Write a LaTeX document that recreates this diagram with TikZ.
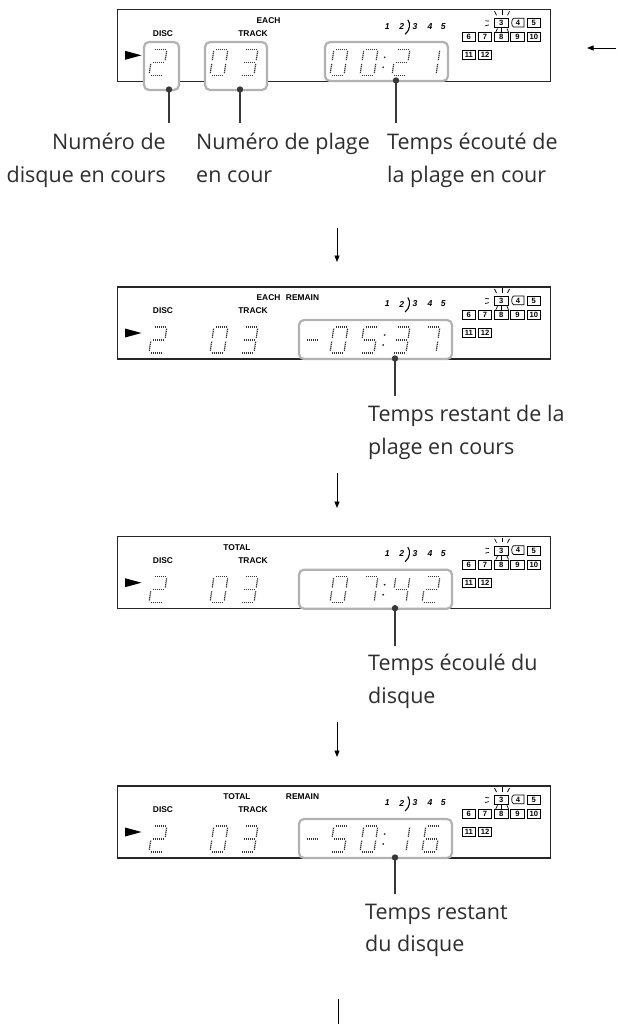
\documentclass[tikz,border=0pt]{standalone}
\usepackage{fontspec}
\setmainfont{Open Sans}
\newfontfamily\lcdfont{Liberation Sans}
\usetikzlibrary{arrows.meta}
\tikzset{
  lcdframe/.style={draw=black!85,line width=1.1pt},
  hibox/.style={draw=black!30,line width=2.2pt,rounded corners=5pt,fill=white},
  seg/.style={draw=black!80,line width=1.2pt,dash pattern=on 1.3pt off 0.7pt},
  lcdlbl/.style={inner sep=0pt,font=\lcdfont\bfseries\fontsize{8.4}{9}\selectfont},
  lcdnum/.style={inner sep=0pt,font=\lcdfont\bfseries\itshape\fontsize{8.6}{9}\selectfont},
  discbox/.style={draw=black,line width=0.7pt,minimum width=13.5pt,minimum height=8.8pt,inner sep=0pt,anchor=north west,font=\lcdfont\bfseries\fontsize{7.6}{8}\selectfont},
  boxnum/.style={inner sep=0pt,font=\lcdfont\bfseries\fontsize{7.6}{8}\selectfont},
  ray/.style={draw=black,line width=0.7pt},
  dotnode/.style={circle,fill=black!78,inner sep=0pt,minimum size=6.4pt},
  conn/.style={draw=black!78,line width=2.6pt},
  flowarr/.style={draw=black,line width=0.9pt,-{Triangle[length=6.5pt,width=5pt]}},
  caption/.style={inner sep=0pt,font=\fontsize{21.5}{25}\selectfont,text=black!82},
}
% seven segments (origin bottom-left, y downward, top at -26)
\newcommand\segA{\draw[seg] (1.6,-26)--(12.4,-26);}
\newcommand\segB{\draw[seg] (14,-24.4)--(14,-14.6);}
\newcommand\segC{\draw[seg] (14,-11.4)--(14,-1.6);}
\newcommand\segD{\draw[seg] (1.6,0)--(12.4,0);}
\newcommand\segE{\draw[seg] (0,-11.4)--(0,-1.6);}
\newcommand\segF{\draw[seg] (0,-24.4)--(0,-14.6);}
\newcommand\segG{\draw[seg] (1.6,-13)--(12.4,-13);}
\newcommand\dZero{\segA\segB\segC\segD\segE\segF}
\newcommand\dOne{\segB\segC}
\newcommand\dTwo{\segA\segB\segG\segE\segD}
\newcommand\dThree{\segA\segB\segG\segC\segD}
\newcommand\dFour{\segF\segG\segB\segC}
\newcommand\dFive{\segA\segF\segG\segC\segD}
\newcommand\dSix{\segA\segF\segG\segE\segD\segC}
\newcommand\dSeven{\segA\segB\segC}
\newcommand\dMinus{\segG}
\newcommand\lcdigit[2]{\begin{scope}[shift={(#1,66)},xslant=0.15]#2\end{scope}}
\newcommand\lcdcolon[1]{\begin{scope}[shift={(#1,66)},xslant=0.15]\fill[black!85] (0,-18) circle (1);\fill[black!85] (0,-8) circle (1);\end{scope}}
% one display panel: #1 prefix, #2 top y, #3 highlight boxes, #4 digits, #5 mode labels
\newcommand\lcdpanel[5]{%
\begin{scope}[shift={(117.5,#2)}]
 \draw[lcdframe] (0,0) rectangle (433,72);
 #3
 \fill[black] (7.5,41.5) -- (24,46) -- (7.5,50.5) -- cycle;
 \node[lcdlbl] (#1disc) at (45.5,24) {DISC};
 \node[lcdlbl] (#1track) at (135.5,24) {TRACK};
 #5
 \node[lcdnum] (#1na) at (269.8,17) {1};
 \node[lcdnum] (#1nb) at (284.2,17) {2};
 \node[lcdnum] (#1nc) at (297.5,17) {3};
 \node[lcdnum] (#1nd) at (312.5,17) {4};
 \node[lcdnum] (#1ne) at (325.8,17) {5};
 \draw[line width=1.1pt] (290.3,10.5) .. controls (293.2,14) and (292.6,21) .. (287.6,25);
 \foreach \bc/\br/\bt in {2/9/3,4/9/5,0/23/6,1/23/7,2/23/8,3/23/9,4/23/10,0/41/11,1/41/12}
   \node[discbox] (#1box\bt) at ({344.2+16.25*\bc},\br) {\bt};
 \draw[line width=0.7pt] (396,9) -- (406.45,9) -- (406.45,17.8) -- (396,17.8) .. controls (393.6,16.8) and (393.6,10) .. (396,9) -- cycle;
 \node[boxnum] (#1box4) at (400.6,13.4) {4};
 \draw[ray] (377,2)--(379,6);
 \draw[ray] (384.5,0.9)--(384.5,5.5);
 \draw[ray] (392,2)--(390,6);
 \draw[ray] (367.8,11.5)--(371.5,11.8);
 \draw[ray] (367.8,16.5)--(371.5,15.6);
 \draw[ray] (378.3,22.8)--(380,19.3);
 \draw[ray] (384,19)--(384,23);
 \draw[ray] (389.5,19.3)--(391,22.8);
 #4
\end{scope}}
\begin{document}
\begin{tikzpicture}[x=1pt,y=-1pt]
\useasboundingbox[fill=white] (0,0) rectangle (616,1024);

% ---------- display 1
\lcdpanel{p1}{9.3}{%
  \draw[hibox] (26.5,32.7) rectangle (61.5,80.7);
  \draw[hibox] (87.5,32.7) rectangle (149.5,80.7);
  \draw[hibox] (207.5,32.7) rectangle (330.5,71.7);}{%
  \lcdigit{31.5}{\dTwo}\lcdigit{92.5}{\dZero}\lcdigit{122.5}{\dThree}%
  \lcdigit{212.5}{\dZero}\lcdigit{242.5}{\dZero}\lcdcolon{264.5}%
  \lcdigit{274.5}{\dTwo}\lcdigit{304.5}{\dOne}}{%
  \node[lcdlbl] (p1each) at (151,11) {EACH};}

% ---------- display 2
\lcdpanel{p2}{287}{%
  \draw[hibox] (181.5,33) rectangle (334.5,72);}{%
  \lcdigit{31.5}{\dTwo}\lcdigit{92.5}{\dZero}\lcdigit{122.5}{\dThree}%
  \lcdigit{185.5}{\dMinus}\lcdigit{212.5}{\dZero}\lcdigit{242.5}{\dFive}\lcdcolon{264.5}%
  \lcdigit{274.5}{\dThree}\lcdigit{304.5}{\dSeven}}{%
  \node[lcdlbl] (p2each) at (151,11) {EACH};
  \node[lcdlbl] (p2remain) at (185,11) {REMAIN};}

% ---------- display 3
\lcdpanel{p3}{536.7}{%
  \draw[hibox] (181.5,33) rectangle (334.5,72);}{%
  \lcdigit{31.5}{\dTwo}\lcdigit{92.5}{\dZero}\lcdigit{122.5}{\dThree}%
  \lcdigit{212.5}{\dZero}\lcdigit{242.5}{\dSeven}\lcdcolon{264.5}%
  \lcdigit{274.5}{\dFour}\lcdigit{304.5}{\dTwo}}{%
  \node[lcdlbl] (p3total) at (119.5,11) {TOTAL};}

% ---------- display 4
\lcdpanel{p4}{786}{%
  \draw[hibox] (181.5,33) rectangle (334.5,72);}{%
  \lcdigit{31.5}{\dTwo}\lcdigit{92.5}{\dZero}\lcdigit{122.5}{\dThree}%
  \lcdigit{185.5}{\dMinus}\lcdigit{212.5}{\dFive}\lcdigit{242.5}{\dZero}\lcdcolon{264.5}%
  \lcdigit{274.5}{\dOne}\lcdigit{304.5}{\dSix}}{%
  \node[lcdlbl] (p4total) at (119.5,11) {TOTAL};
  \node[lcdlbl] (p4remain) at (185,11) {REMAIN};}

% ---------- pointers
\coordinate (e1a) at (169,123);
\coordinate (e1b) at (240,123);
\coordinate (e1c) at (396,123);
\coordinate (e2) at (395,396);
\coordinate (e3) at (395,646);
\coordinate (e4) at (395,894);
\node[dotnode] (d1a) at (169,89.5) {};
\node[dotnode] (d1b) at (240,89.5) {};
\node[dotnode] (d1c) at (396,80.5) {};
\node[dotnode] (d2) at (395,358.5) {};
\node[dotnode] (d3) at (395,608.2) {};
\node[dotnode] (d4) at (395,857.5) {};
\draw[conn] (d1a.center) -- (e1a);
\draw[conn] (d1b.center) -- (e1b);
\draw[conn] (d1c.center) -- (e1c);
\draw[conn] (d2.center) -- (e2);
\draw[conn] (d3.center) -- (e3);
\draw[conn] (d4.center) -- (e4);

% ---------- captions
\node[caption,anchor=base east] (c1a1) at (166,150) {Numéro de};
\node[caption,anchor=base east] (c1a2) at (166,183) {disque en cours};
\node[caption,anchor=base west] (c1b1) at (196,150) {Numéro de plage};
\node[caption,anchor=base west] (c1b2) at (196,183) {en cour};
\node[caption,anchor=base west] (c1c1) at (387,150) {Temps écouté de};
\node[caption,anchor=base west] (c1c2) at (387,183) {la plage en cour};
\node[caption,anchor=base west] (c21) at (368,421) {Temps restant de la};
\node[caption,anchor=base west] (c22) at (368,454) {plage en cours};
\node[caption,anchor=base west] (c31) at (368,670) {Temps écoulé du};
\node[caption,anchor=base west] (c32) at (368,703) {disque};
\node[caption,anchor=base west] (c41) at (365,919) {Temps restant};
\node[caption,anchor=base west] (c42) at (365,951) {du disque};

% ---------- flow arrows
\coordinate (a1s) at (337,228); \coordinate (a1e) at (337,262);
\coordinate (a2s) at (337,473); \coordinate (a2e) at (337,508);
\coordinate (a3s) at (337,722); \coordinate (a3e) at (337,757);
\coordinate (rs) at (616,48);  \coordinate (re) at (587,48);
\coordinate (bs) at (338,999); \coordinate (be) at (338,1024);
\draw[flowarr] (a1s) -- (a1e);
\draw[flowarr] (a2s) -- (a2e);
\draw[flowarr] (a3s) -- (a3e);
\draw[flowarr] (rs) -- (re);
\draw[draw=black,line width=0.9pt] (bs) -- (be);
\end{tikzpicture}
\end{document}
